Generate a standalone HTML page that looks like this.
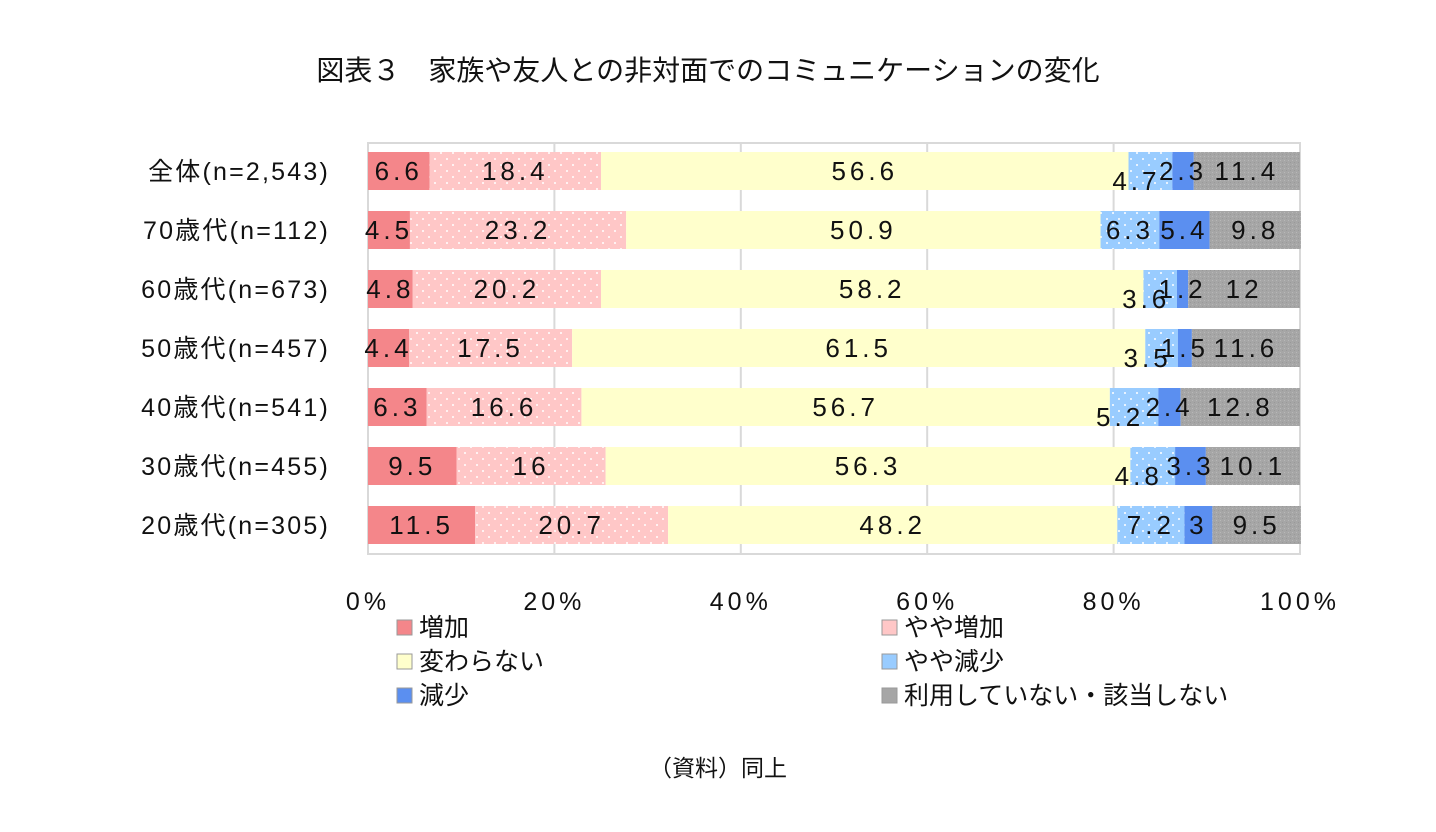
<!DOCTYPE html>
<html><head><meta charset="utf-8">
<style>
body{margin:0;background:#fff;font-family:"Liberation Sans","Noto Sans CJK JP",sans-serif;}
svg text{font-family:"Liberation Sans","Noto Sans CJK JP",sans-serif;}
</style></head>
<body>
<svg width="1436" height="827" viewBox="0 0 1436 827">
<defs>
<pattern id="dotPink" width="12" height="12" patternUnits="userSpaceOnUse"><rect width="12" height="12" fill="#ffc7c7"/><circle cx="3" cy="3" r="1" fill="#fff"/><circle cx="9" cy="9" r="1" fill="#fff"/></pattern>
<pattern id="dotBlue" width="12" height="12" patternUnits="userSpaceOnUse"><rect width="12" height="12" fill="#99ccff"/><circle cx="3" cy="3" r="1" fill="#fff"/><circle cx="9" cy="9" r="1" fill="#fff"/></pattern>
<pattern id="dotGray" width="4" height="4" patternUnits="userSpaceOnUse"><rect width="4" height="4" fill="#a6a6a6"/><rect x="0" y="0" width="1" height="1" fill="#b8b8b8"/><rect x="2" y="2" width="1" height="1" fill="#999"/></pattern>
</defs>
<text x="708" y="80" font-size="28" text-anchor="middle" fill="#111">図表３　家族や友人との非対面でのコミュニケーションの変化</text>
<g id="plot"></g>
<g id="legend"></g>
<text x="718" y="776" font-size="23" text-anchor="middle" fill="#111">（資料）同上</text>
</svg>
<script>
const categories=["全体(n=2,543)","70歳代(n=112)","60歳代(n=673)","50歳代(n=457)","40歳代(n=541)","30歳代(n=455)","20歳代(n=305)"];
const seriesNames=["増加","やや増加","変わらない","やや減少","減少","利用していない・該当しない"];
const sIncrease=[6.6,4.5,4.8,4.4,6.3,9.5,11.5];
const sSlightInc=[18.4,23.2,20.2,17.5,16.6,16,20.7];
const sNoChange=[56.6,50.9,58.2,61.5,56.7,56.3,48.2];
const sSlightDec=[4.7,6.3,3.6,3.5,5.2,4.8,7.2];
const sDecrease=[2.3,5.4,1.2,1.5,2.4,3.3,3];
const sNotUsed=[11.4,9.8,12,11.6,12.8,10.1,9.5];
const tickLabels=["0%","20%","40%","60%","80%","100%"];
const tickValues=[0,20,40,60,80,100];

const series=[sIncrease,sSlightInc,sNoChange,sSlightDec,sDecrease,sNotUsed];
const fills=["#f4868a","url(#dotPink)","#ffffcc","url(#dotBlue)","#5b8ff0","url(#dotGray)"];
const legFills=["#f4868a","#ffc7c7","#ffffcc","#99ccff","#5b8ff0","#a6a6a6"];
const X0=368,X1=1300,TOP=143,BOT=554,BH=38,ROW0=152,PITCH=59;
const x=v=>X0+(X1-X0)*v/100;
const y=i=>ROW0+PITCH*i;
const NS="http://www.w3.org/2000/svg";
const plot=document.getElementById('plot');
function mk(tag,attrs,parent){const e=document.createElementNS(NS,tag);for(const k in attrs)e.setAttribute(k,attrs[k]);parent.appendChild(e);return e;}
let fr=mk('rect',{x:X0,y:TOP,width:X1-X0,height:BOT-TOP,fill:'none',stroke:'#d9d9d9','stroke-width':2},plot);


tickValues.forEach((t,k)=>{
  let g=mk('line',{x1:x(t),x2:x(t),y1:TOP,y2:BOT,stroke:'#d9d9d9','stroke-width':2},plot);
  
  
  let tl=mk('text',{x:x(t),y:610,'font-size':25,'letter-spacing':4,'text-anchor':'middle',fill:'#111'},plot);
  tl.textContent=tickLabels[k];
  
  
});
const labelLayer=[];
categories.forEach((c,i)=>{
  let cl=mk('text',{x:330,y:y(i)+BH/2+9,'font-size':25,'letter-spacing':2.2,'text-anchor':'end',fill:'#111'},plot);
  cl.textContent=c;
  
  
  let acc=0;
  series.forEach((s,j)=>{
    const v=s[i];
    let r=mk('rect',{x:x(acc),y:y(i),width:x(acc+v)-x(acc),height:BH,fill:fills[j]},plot);
    
    
    const cx=(x(acc)+x(acc+v))/2;
    let dy=(j===3 && v<6)?10:0;
    let dx=(j===3 && v<6)?-14:0;
    labelLayer.push([cx+dx,y(i)+BH/2+9+dy,v]);
    acc+=v;
  });
});
labelLayer.forEach(([lx,ly,v])=>{
  let lt=mk('text',{x:lx,y:ly,'font-size':26,'letter-spacing':4,'text-anchor':'middle',fill:'#111'},plot);
  lt.textContent=String(v);
  
  
});
const leg=document.getElementById('legend');
seriesNames.forEach((n,j)=>{
  const lx=j%2===0?397:882, ly=620+34*Math.floor(j/2);
  let sq=mk('rect',{x:lx,y:ly,width:15,height:15,fill:legFills[j],stroke:'#999','stroke-width':1},leg);
  
  
  let t=mk('text',{x:lx+22,y:ly+16,'font-size':25,fill:'#111'},leg);
  t.textContent=n;
  
  
});
</script>
</body></html>
